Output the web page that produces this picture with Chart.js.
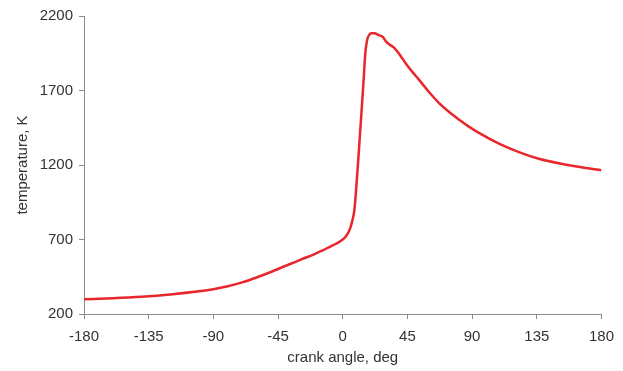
<!DOCTYPE html>
<html>
<head>
<meta charset="utf-8">
<script src="https://cdn.jsdelivr.net/npm/chart.js@4"></script>
<style>
  html, body { margin: 0; padding: 0; background: #fff; }
  #wrap { width: 623px; height: 371px; }
</style>
</head>
<body>
<div id="wrap"><canvas id="temp-graph" width="623" height="371"></canvas></div>
<script>
// crank angle (deg) and gas temperature (K)
const angles = [-180, -160, -140, -120, -100, -90, -80, -70, -60, -50, -40, -30, -20, -14, -9, -4, 0, 2.5, 4.7, 6.5, 8.1, 9.3, 10.9, 12.3, 13.5, 14.7, 15.7, 17, 18.5, 20, 22, 25, 28, 30, 32.5, 36, 40, 44, 48, 53, 60, 67, 74, 81, 88, 95, 109, 123, 137, 151, 165, 180];
const temps = [299, 306, 316, 331, 352, 366, 386, 412, 445, 482, 522, 562, 600, 627, 651, 675, 700, 725, 763, 820, 898, 1033, 1250, 1450, 1620, 1800, 1950, 2040, 2075, 2085, 2085, 2072, 2058, 2030, 2009, 1985, 1935, 1880, 1830, 1773, 1690, 1616, 1556, 1504, 1456, 1414, 1342, 1285, 1240, 1210, 1186, 1165];
const xTicks = [-180, -135, -90, -45, 0, 45, 90, 135, 180];
const yTicks = [200, 700, 1200, 1700, 2200];

const CTX = document.getElementById('temp-graph');
const points = angles.map((a, i) => ({ x: a, y: temps[i] }));
const AXIS = '#8c8c8c';
const TXT = '#333333';

new Chart(CTX, {
  type: 'line',
  data: {
    datasets: [{
      data: points,
      borderColor: '#e8262c',
      borderWidth: 2.5,
      pointRadius: 0,
      fill: false,
      cubicInterpolationMode: 'monotone'
    }]
  },
  options: {
    responsive: false,
    animation: false,
    layout: { padding: { top: 16, right: 21, left: 0, bottom: 0 } },
    plugins: { legend: { display: false }, tooltip: { enabled: false } },
    scales: {
      x: {
        type: 'linear',
        min: -180,
        max: 180,
        afterBuildTicks: (s) => { s.ticks = xTicks.map(v => ({ value: v })); },
        afterFit: (s) => { s.height = 57; },
        grid: { drawOnChartArea: false, drawTicks: true, tickLength: 5, color: AXIS },
        border: { color: AXIS, width: 1 },
        ticks: { color: TXT, font: { family: 'Liberation Sans', size: 15 }, padding: 9, maxRotation: 0, callback: (v) => String(v) },
        title: { display: true, text: 'crank angle, deg', color: TXT, font: { family: 'Liberation Sans', size: 15 }, padding: { top: 2 } }
      },
      y: {
        min: 200,
        max: 2200,
        afterBuildTicks: (s) => { s.ticks = yTicks.map(v => ({ value: v })); },
        afterFit: (s) => { s.width = 84; },
        grid: { drawOnChartArea: false, drawTicks: true, tickLength: 5, color: AXIS },
        border: { color: AXIS, width: 1 },
        ticks: { color: TXT, font: { family: 'Liberation Sans', size: 15 }, padding: 6, callback: (v) => String(v) },
        title: { display: true, text: 'temperature, K', color: TXT, font: { family: 'Liberation Sans', size: 15 }, padding: { top: 14, bottom: 4 } }
      }
    }
  }
});
</script>
</body>
</html>
